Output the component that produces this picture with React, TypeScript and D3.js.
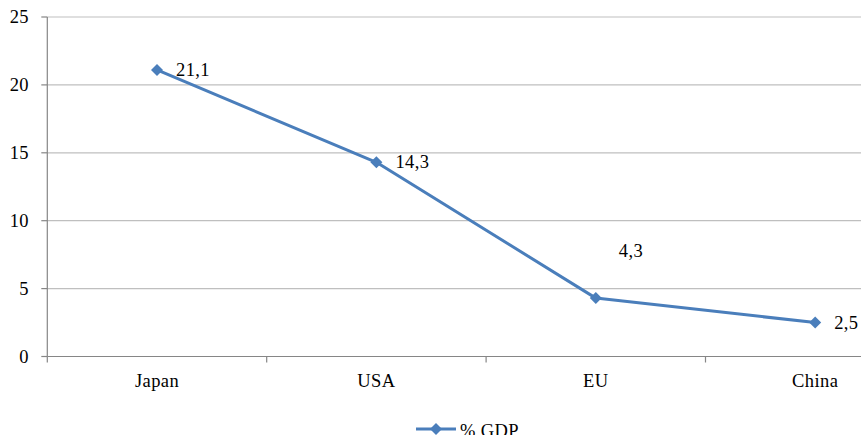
import React from "react";
import * as d3 from "d3";

const categories = ["Japan", "USA", "EU", "China"];
const values = [21.1, 14.3, 4.3, 2.5];
const valueLabels = ["21,1", "14,3", "4,3", "2,5"];
const yTicks = [0, 5, 10, 15, 20, 25];
const seriesName = "% GDP";

const W = 861;
const H = 435;
const left = 47.3;
const band = 219.4;
const top = 17;
const bottom = 356.5;
const color = "#4A7EBB";
const font = "'Liberation Serif', 'Times New Roman', Times, serif";
const textStyle: React.CSSProperties = { fontFamily: font, fontSize: 18.5, letterSpacing: 0.4 };

export default function App() {
  const x = d3
    .scaleBand<string>()
    .domain(categories)
    .range([left, left + band * categories.length])
    .paddingInner(0)
    .paddingOuter(0);
  const y = d3.scaleLinear().domain([0, 25]).range([bottom, top]);
  const cx = (c: string) => (x(c) as number) + x.bandwidth() / 2;
  const pts: [number, number][] = categories.map((c, i) => [cx(c), y(values[i])]);
  const line = d3.line()(pts) as string;
  const diamond = (px: number, py: number, r: number) =>
    `M${px},${py - r}L${px + r},${py}L${px},${py + r}L${px - r},${py}Z`;

  const labelPos = (i: number): [number, number] => {
    if (i === 2) return [pts[i][0] + 23, pts[i][1] - 41];
    return [pts[i][0] + 19, pts[i][1] + 6];
  };

  const boundaries = d3.range(categories.length + 1).map((i) => left + i * band);

  return (
    <svg
      width={W}
      height={H}
      style={{ position: "fixed", left: 0, top: 0, background: "#fff" }}
    >
      {yTicks.map((t) => (
        <g key={t}>
          {t > 0 && (
            <line x1={left} x2={W} y1={y(t)} y2={y(t)} stroke="#BFBFBF" strokeWidth={1.2} />
          )}
          <line x1={left - 6} x2={left} y1={y(t)} y2={y(t)} stroke="#868686" strokeWidth={1.2} />
          <text x={29} y={y(t)} dy="0.35em" textAnchor="end" style={textStyle} fill="#000">
            {t}
          </text>
        </g>
      ))}
      <line x1={left} x2={left} y1={top} y2={bottom} stroke="#868686" strokeWidth={1.2} />
      <line x1={left} x2={W} y1={bottom} y2={bottom} stroke="#868686" strokeWidth={1.2} />
      {boundaries.map((b, i) => (
        <line key={i} x1={b} x2={b} y1={bottom} y2={bottom + 6} stroke="#868686" strokeWidth={1.2} />
      ))}
      {categories.map((c) => (
        <text key={c} x={cx(c)} y={bottom + 30} textAnchor="middle" style={textStyle} fill="#000">
          {c}
        </text>
      ))}
      <path d={line} fill="none" stroke={color} strokeWidth={3} strokeLinejoin="round" />
      {pts.map(([px, py], i) => (
        <path key={i} d={diamond(px, py, 6)} fill={color} />
      ))}
      {pts.map((p, i) => {
        const [lx, ly] = labelPos(i);
        return (
          <text key={i} x={lx} y={ly} style={textStyle} fill="#000">
            {valueLabels[i]}
          </text>
        );
      })}
      <g>
        <line x1={416} x2={456} y1={429} y2={429} stroke={color} strokeWidth={3} />
        <path d={diamond(436, 429, 6)} fill={color} />
        <text x={460} y={437} style={textStyle} fill="#000">
          {seriesName}
        </text>
      </g>
    </svg>
  );
}
